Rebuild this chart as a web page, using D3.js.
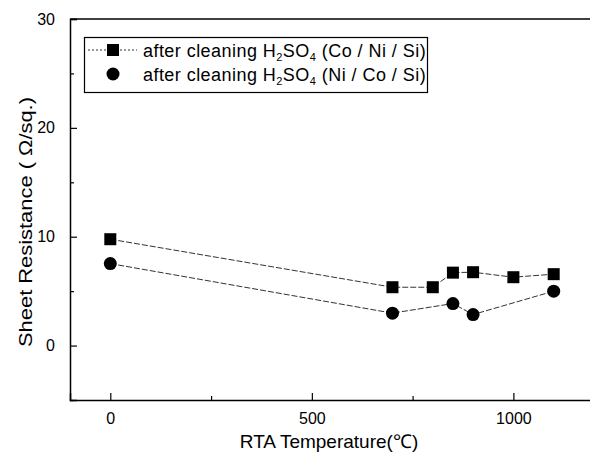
<!DOCTYPE html>
<html><head><meta charset="utf-8">
<script src="https://cdn.jsdelivr.net/npm/d3@7"></script>
<style>html,body{margin:0;padding:0;background:#fff;overflow:hidden}</style>
</head><body><div id="chart"></div>
<script>
const temps1 = [0, 700, 800, 850, 900, 1000, 1100];
const values1 = [9.77, 5.36, 5.36, 6.70, 6.74, 6.28, 6.56];
const temps2 = [0, 700, 850, 900, 1100];
const values2 = [7.53, 2.98, 3.86, 2.85, 5.0];
const xTicks = [0, 500, 1000];
const xMinor = [250, 750];
const yTicks = [0, 10, 20, 30];
const yMinor = [-5, 5, 15, 25];
const seriesNames = ["(Co / Ni / Si)", "(Ni / Co / Si)"];

const W = 590, H = 454;
const FONT = "'Liberation Sans', Arial, sans-serif";
const svg = d3.select("#chart").append("svg").attr("width", W).attr("height", H)
  .style("font-family", FONT);
const x = d3.scaleLinear().domain([-100, 1200]).range([70, 594]);
const y = d3.scaleLinear().domain([-5, 30]).range([400, 19]);

// top border
svg.append("line").attr("x1", x(-100)).attr("x2", 600).attr("y1", y(30)).attr("y2", y(30))
  .attr("stroke", "#000").attr("stroke-width", 1.5);

svg.append("g").attr("transform", `translate(0,${y(-5)})`)
  .call(d3.axisBottom(x).tickValues(xTicks).tickSize(-7).tickPadding(13).tickFormat(d3.format("d")));
svg.append("g").attr("transform", `translate(0,${y(-5)})`)
  .call(d3.axisBottom(x).tickValues(xMinor).tickSize(-4).tickFormat(""))
  .call(g => g.select(".domain").remove());
svg.append("g").attr("transform", `translate(${x(-100)},0)`)
  .call(d3.axisLeft(y).tickValues(yTicks).tickSize(-7).tickPadding(15).tickFormat(d3.format("d")));
svg.append("g").attr("transform", `translate(${x(-100)},0)`)
  .call(d3.axisLeft(y).tickValues(yMinor).tickSize(-4).tickFormat(""))
  .call(g => g.select(".domain").remove());
svg.selectAll(".domain").attr("stroke-width", 1.5);
svg.selectAll(".tick line").attr("stroke-width", 1.2);
svg.selectAll(".tick text").attr("font-size", 16).attr("font-family", FONT).attr("fill", "#000");

svg.append("text").attr("x", 329).attr("y", 448).attr("text-anchor", "middle")
  .attr("font-size", 19).text("RTA Temperature(\u2103)");
svg.append("text").attr("transform", "translate(32,222) rotate(-90)").attr("text-anchor", "middle")
  .attr("font-size", 19).attr("textLength", 250).attr("lengthAdjust", "spacingAndGlyphs")
  .text("Sheet Resistance ( \u03A9/sq.)");

const line = d3.line().x(d => x(d[0])).y(d => y(d[1]));
const d1 = temps1.map((t, i) => [t, values1[i]]);
const d2 = temps2.map((t, i) => [t, values2[i]]);
[d1, d2].forEach(d => svg.append("path").datum(d).attr("d", line).attr("fill", "none")
  .attr("stroke", "#333").attr("stroke-width", 1).attr("stroke-dasharray", "6,2"));

svg.selectAll(".sq").data(d1).enter().append("rect")
  .attr("x", d => x(d[0]) - 6).attr("y", d => y(d[1]) - 6).attr("width", 12).attr("height", 12).attr("fill", "#000");
svg.selectAll(".ci").data(d2).enter().append("circle")
  .attr("cx", d => x(d[0])).attr("cy", d => y(d[1])).attr("r", 6.5).attr("fill", "#000");

// legend
const lg = svg.append("g");
lg.append("rect").attr("x", 84.5).attr("y", 37.5).attr("width", 343).attr("height", 55)
  .attr("fill", "#fff").attr("stroke", "#000").attr("stroke-width", 1.2);
const rows = [50, 74];
rows.forEach((ry, i) => {
  if (i === 0) lg.append("line").attr("x1", 88).attr("x2", 137).attr("y1", ry).attr("y2", ry)
    .attr("stroke", "#333").attr("stroke-width", 1).attr("stroke-dasharray", "2,2");
  if (i === 0) lg.append("rect").attr("x", 107).attr("y", ry - 6).attr("width", 12).attr("height", 12);
  else lg.append("circle").attr("cx", 113).attr("cy", ry).attr("r", 6.5);
  const t = lg.append("text").attr("x", 143).attr("y", ry + 7).attr("font-size", 18).attr("letter-spacing", 0.45);
  t.append("tspan").text("after cleaning H");
  t.append("tspan").attr("font-size", 11).attr("dy", 4).text("2");
  t.append("tspan").attr("dy", -4).text("SO");
  t.append("tspan").attr("font-size", 11).attr("dy", 4).text("4");
  t.append("tspan").attr("dy", -4).text(" " + seriesNames[i]);
});
</script></body></html>
